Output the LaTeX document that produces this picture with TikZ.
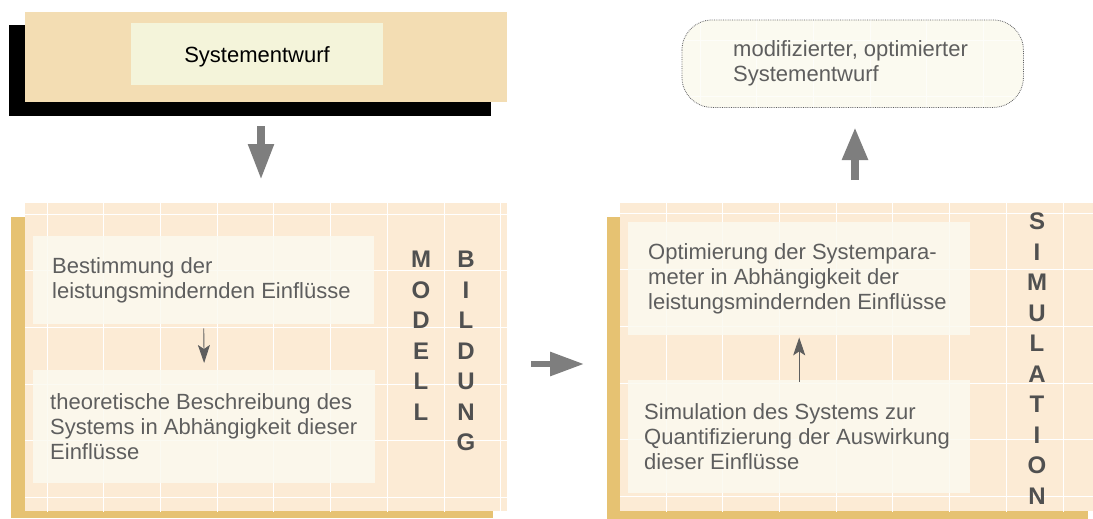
\documentclass[tikz,border=0pt]{standalone}
\usepackage{fontspec}
\setmainfont{Liberation Sans}
\usetikzlibrary{positioning, arrows.meta}

\definecolor{wheat}{HTML}{F3DDB3}
\definecolor{cream}{HTML}{F4F4DA}
\definecolor{peach}{HTML}{FCEBD5}
\definecolor{gold}{HTML}{E6C272}
\definecolor{paper}{HTML}{FBFAF0}
\definecolor{ink}{HTML}{5E5E5E}
\definecolor{arrowgray}{HTML}{7E7E7E}

\begin{document}
\begin{tikzpicture}[
    x=1pt, y=-1pt,
    font=\fontsize{22}{25}\selectfont,
    frame/.style={
        draw=none,
        fill=peach,
        rectangle,
        anchor=north west,
        inner sep=0pt
    },
    panel/.style={
        draw=none,
        fill=paper,
        fill opacity=0.85,
        rectangle,
        anchor=north west,
        inner sep=0pt
    },
    txt/.style={text=ink, align=left, inner sep=0pt},
    letters/.style={
        text=ink!85!black,
        align=center,
        anchor=north,
        inner sep=0pt,
        font=\fontsize{24}{30.5}\selectfont\bfseries
    },
    bigarrow/.style={arrowgray, line width=8pt, -{Triangle[width=24pt, length=36pt]}},
    thinarrow/.style={ink, line width=0.9pt, -{Stealth[width=12pt, length=18pt, inset=4pt]}},
    gridlines/.style={white, line width=0.8pt, step=56.7pt}
]
\useasboundingbox (0,0) rectangle (1093,519);

% design at the start
\fill[black] (9,25) rectangle (491,116);
\node[frame, fill=wheat, minimum width=482pt, minimum height=90pt] (entwurf) at (25,12) {};
\node[panel, fill=cream, fill opacity=1, minimum width=252pt, minimum height=62pt] (entwurfkern) at (131,23) {};
\node[text=black, anchor=base] (entwurftext) at (257,63) {Systementwurf};

% modelling
\fill[gold] (11,217) rectangle (493,518);
\node[frame, minimum width=482pt, minimum height=308pt] (modell) at (25,203) {};
\begin{scope}
\clip (25,203) rectangle (507,511);
\draw[gridlines, shift={(47,214)}] (-60,-60) grid (500,340);
\end{scope}
\node[panel, minimum width=341pt, minimum height=88pt] (bestimmung) at (33,236) {};
\node[txt, right=19pt of bestimmung.west] (bestimmungtext) {Bestimmung der\\leistungsmindernden Einflüsse};
\node[panel, minimum width=342pt, minimum height=113pt] (beschreibung) at (33,370) {};
\node[txt, right=17pt of beschreibung.west] (beschreibungtext) {theoretische Beschreibung des\\Systems in Abhängigkeit dieser\\Einflüsse};
\node[letters] (modellwort) at (421,251) {M\\O\\D\\E\\L\\L};
\node[letters] (bildungwort) at (466,251) {B\\I\\L\\D\\U\\N\\G};

% simulation
\fill[gold] (607,217) rectangle (1088,519);
\node[frame, minimum width=473pt, minimum height=308pt] (simul) at (620,203) {};
\begin{scope}
\clip (620,203) rectangle (1093,511);
\draw[gridlines, shift={(666,213)}] (-60,-60) grid (500,340);
\end{scope}
\node[panel, minimum width=342pt, minimum height=113pt] (optimierung) at (628,222) {};
\node[txt, right=20pt of optimierung.west] (optimierungtext) {Optimierung der Systempara-\\meter in Abhängigkeit der\\leistungsmindernden Einflüsse};
\node[panel, minimum width=342pt, minimum height=113pt] (simulation) at (628,380) {};
\node[txt, right=16pt of simulation.west] (simulationtext) {Simulation des Systems zur\\Quantifizierung der Auswirkung\\dieser Einflüsse};
\node[letters] (simulwort) at (1037,213) {S\\I\\M\\U\\L\\A\\T\\I\\O\\N};

% modified design
\node[frame, fill=paper, rounded corners=30pt, minimum width=341pt, minimum height=87pt] (ergebnis) at (682,20) {};
\begin{scope}
\clip[rounded corners=30pt] (682,20) rectangle (1023,107);
\draw[gridlines, opacity=0.6, shift={(700,40)}] (-60,-60) grid (400,120);
\end{scope}
\draw[ink, densely dotted, line width=0.8pt, rounded corners=30pt] (ergebnis.north west) rectangle (ergebnis.south east);
\node[txt, right=51pt of ergebnis.west] (ergebnistext) {modifizierter, optimierter\\Systementwurf};

% block arrows
\coordinate (abwaerts1) at (261,126);
\coordinate (abwaerts2) at (261,180);
\coordinate (rechts1) at (531,364);
\coordinate (rechts2) at (584,364);
\coordinate (aufwaerts1) at (855,180);
\coordinate (aufwaerts2) at (855,127);
\draw[bigarrow] (abwaerts1) -- (abwaerts2);
\draw[bigarrow, line width=6pt, -{Triangle[width=23pt, length=34pt]}] (rechts1) -- (rechts2);
\draw[bigarrow, -{Triangle[width=24pt, length=33pt]}] (aufwaerts1) -- (aufwaerts2);

% thin arrows inside the frames
\draw[thinarrow, shorten <=4pt, shorten >=7pt] (bestimmung.south) -- (beschreibung.north);
\draw[thinarrow, shorten <=-2pt, shorten >=2pt] (simulation.north) -- (optimierung.south);
\end{tikzpicture}
\end{document}
